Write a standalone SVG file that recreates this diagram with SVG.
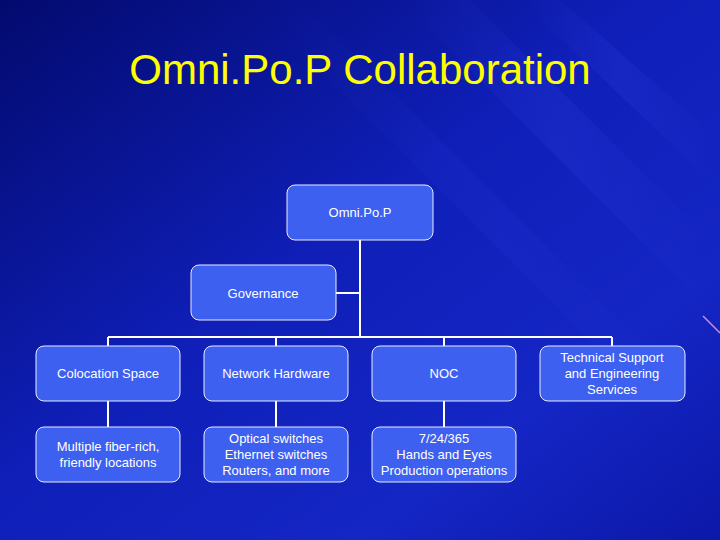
<svg xmlns="http://www.w3.org/2000/svg" width="720" height="540" viewBox="0 0 720 540">
<defs>
<linearGradient id="bg" x1="0" y1="0" x2="1" y2="1">
<stop offset="0" stop-color="#030a6e"/>
<stop offset="0.45" stop-color="#0f1fb8"/>
<stop offset="0.75" stop-color="#1426c4"/>
<stop offset="1" stop-color="#0c18a8"/>
</linearGradient>
<linearGradient id="streak" x1="0" y1="0" x2="1" y2="0">
<stop offset="0" stop-color="#4a5cff" stop-opacity="0"/>
<stop offset="0.5" stop-color="#4a5cff" stop-opacity="0.18"/>
<stop offset="1" stop-color="#4a5cff" stop-opacity="0"/>
</linearGradient>
<style>
.box{fill:#3d60f0;stroke:#e8ecff;stroke-width:1}
.t{font-family:"Liberation Sans",Arial,sans-serif;font-size:13px;fill:#ffffff;text-anchor:middle}
.c{stroke:#ffffff;stroke-width:2;fill:none}
</style>
</defs>
<rect width="720" height="540" fill="url(#bg)"/>
<g opacity="0.7">
<polygon points="400,0 470,0 720,250 720,320" fill="url(#streak)"/>
<polygon points="520,0 560,0 720,140 720,190" fill="url(#streak)"/>
<polygon points="250,0 300,0 720,420 720,470" fill="url(#streak)" opacity="0.6"/>
</g>
<line x1="703" y1="316" x2="720" y2="333" stroke="#d090e0" stroke-width="1.5"/>
<text x="360" y="84" font-family="'Liberation Sans',Arial,sans-serif" font-size="42" fill="#ffff00" text-anchor="middle">Omni.Po.P Collaboration</text>
<g id="connectors">
<path class="c" d="M360 240 V337 M336 293 H360 M108 337 H612 M108 337 V346 M276 337 V346 M444 337 V346 M612 337 V346 M108 401 V427 M276 401 V427 M444 401 V427"/>
</g>
<g id="omnipop"><rect class="box" x="287" y="185" width="146" height="55" rx="8"/><text class="t" x="360" y="217">Omni.Po.P</text></g>
<g id="governance"><rect class="box" x="191" y="265" width="145" height="55" rx="8"/><text class="t" x="263" y="298">Governance</text></g>
<g id="colocation"><rect class="box" x="36" y="346" width="144" height="55" rx="8"/><text class="t" x="108" y="378">Colocation Space</text></g>
<g id="hardware"><rect class="box" x="204" y="346" width="144" height="55" rx="8"/><text class="t" x="276" y="378">Network Hardware</text></g>
<g id="noc"><rect class="box" x="372" y="346" width="144" height="55" rx="8"/><text class="t" x="444" y="378">NOC</text></g>
<g id="techsupport"><rect class="box" x="540" y="346" width="145" height="55" rx="8"/><text class="t" x="612" y="362">Technical Support</text><text class="t" x="612" y="378">and Engineering</text><text class="t" x="612" y="394">Services</text></g>
<g id="locations"><rect class="box" x="36" y="427" width="144" height="55" rx="8"/><text class="t" x="108" y="451">Multiple fiber-rich,</text><text class="t" x="108" y="467">friendly locations</text></g>
<g id="switches"><rect class="box" x="204" y="427" width="144" height="55" rx="8"/><text class="t" x="276" y="443">Optical switches</text><text class="t" x="276" y="459">Ethernet switches</text><text class="t" x="276" y="475">Routers, and more</text></g>
<g id="operations"><rect class="box" x="372" y="427" width="144" height="55" rx="8"/><text class="t" x="444" y="443">7/24/365</text><text class="t" x="444" y="459">Hands and Eyes</text><text class="t" x="444" y="475">Production operations</text></g>
</svg>
